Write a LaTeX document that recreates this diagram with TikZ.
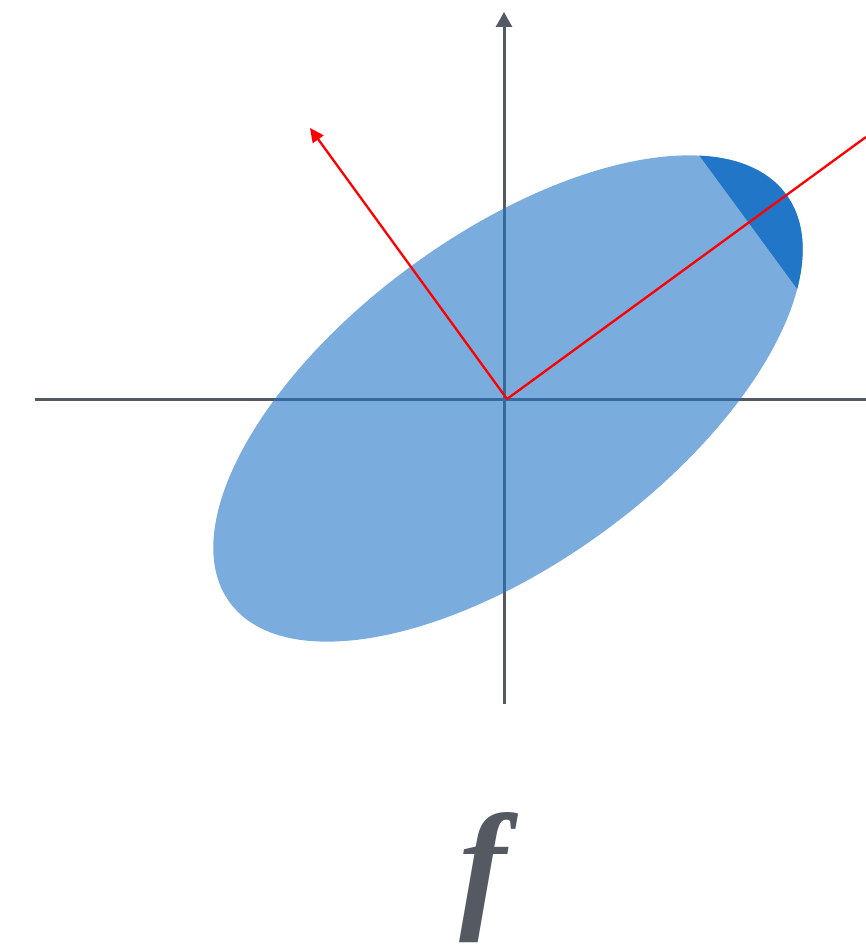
\documentclass[tikz,border=0pt]{standalone}
\usepackage{fontspec}
\usetikzlibrary{arrows.meta}
\newfontfamily\lblfont{Liberation Serif}
\definecolor{axisgray}{HTML}{555A62}
\definecolor{ellblue}{HTML}{2176C7}
\definecolor{vecred}{HTML}{FF0000}
\tikzset{
  axisline/.style={draw=axisgray,line width=1.5pt},
  vecline/.style={draw=vecred,line width=1.15pt}
}
\begin{document}
\begin{tikzpicture}[x=0.5pt,y=0.5pt]
\useasboundingbox (-504,-549) rectangle (362,399);
\coordinate (O) at (0,0);
\coordinate (xl) at (-469,0);
\coordinate (xr) at (362,0);
\coordinate (yb) at (0,-305);
\coordinate (yt) at (0,387);
\draw[axisline] (xl)--(xr);
\draw[axisline,-{Triangle[length=7.5pt,width=8pt]}] (yb)--(yt);
\begin{scope}[shift={(4,0.5)},rotate=36.25]
\fill[ellblue,opacity=0.6] (0,0) ellipse [x radius=345,y radius=164];
\clip (0,0) ellipse [x radius=345,y radius=164];
\fill[ellblue] (298,-200) rectangle (400,200);
\end{scope}
\coordinate (v0) at (3,0);
\coordinate (v1) at (-194,271);
\coordinate (v2) at (362,262);
\draw[vecline,-{Triangle[length=7pt,width=6.5pt]}] (v0)--(v1);
\draw[vecline] (v0)--(v2);
\node[text=axisgray,font=\lblfont\fontsize{71}{71}\selectfont\bfseries\itshape] (lbl) at (-21,-479) {f};
\end{tikzpicture}
\end{document}
